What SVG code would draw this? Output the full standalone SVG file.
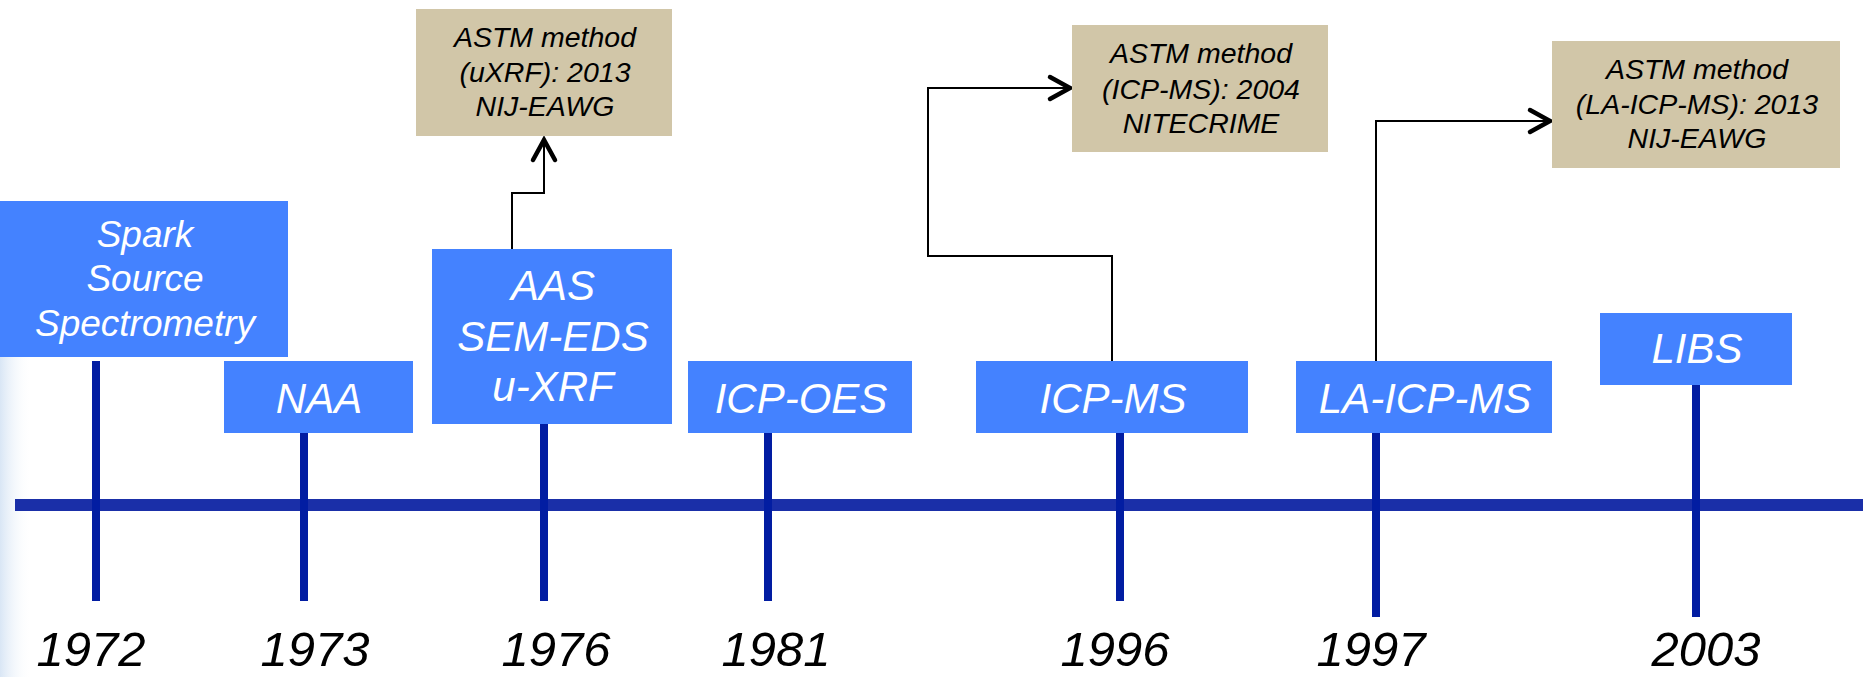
<svg xmlns="http://www.w3.org/2000/svg" width="1863" height="677" viewBox="0 0 1863 677">
<defs>
<linearGradient id="edge" x1="0" y1="0" x2="1" y2="0">
<stop offset="0" stop-color="#D9E6F5"/>
<stop offset="1" stop-color="#FFFFFF" stop-opacity="0"/>
</linearGradient>
<marker id="chev" markerUnits="userSpaceOnUse" markerWidth="30" markerHeight="30" viewBox="-26 -15 30 30" refX="0" refY="0" orient="auto">
<path d="M-21,-11 L-1,0 L-21,11" fill="none" stroke="#000" stroke-width="4.5" stroke-linecap="round" stroke-linejoin="miter"/>
</marker>
<style>
.tech{fill:#4482FF}
.astm{fill:#D1C6A8}
.tt{font-family:"Liberation Sans",Arial,sans-serif;font-style:italic;fill:#FFFFFF;text-anchor:middle}
.at{font-family:"Liberation Sans",Arial,sans-serif;font-style:italic;fill:#000000;text-anchor:middle;font-size:28.5px}
.yr{font-family:"Liberation Sans",Arial,sans-serif;font-style:italic;fill:#000000;text-anchor:middle;font-size:49px}
.tick{fill:#021DA2}
.conn{fill:none;stroke:#000;stroke-width:2}
</style>
</defs>
<rect x="0" y="0" width="1863" height="677" fill="#FFFFFF"/>
<rect x="0" y="357" width="32" height="320" fill="url(#edge)"/>

<g id="timeline">
<rect x="15" y="499" width="1848" height="12" fill="#1A2FA8"/>
</g>

<g id="ticks">
<rect class="tick" x="92" y="361" width="8" height="240"/>
<rect class="tick" x="300" y="433" width="8" height="168"/>
<rect class="tick" x="540" y="424" width="8" height="177"/>
<rect class="tick" x="764" y="433" width="8" height="168"/>
<rect class="tick" x="1116" y="433" width="8" height="168"/>
<rect class="tick" x="1372" y="433" width="8" height="184"/>
<rect class="tick" x="1692" y="385" width="8" height="232"/>
</g>

<g id="connectors">
<path class="conn" d="M512,249 V193 H544 V139" marker-end="url(#chev)"/>
<path class="conn" d="M1112,361 V256 H928 V88 H1071" marker-end="url(#chev)"/>
<path class="conn" d="M1376,361 V121 H1551" marker-end="url(#chev)"/>
</g>

<g id="node-spark">
<rect class="tech" x="0" y="201" width="288" height="156"/>
<text class="tt" font-size="37" x="145" y="247">Spark</text>
<text class="tt" font-size="37" x="145" y="291">Source</text>
<text class="tt" font-size="37" x="145" y="336">Spectrometry</text>
</g>

<g id="node-naa">
<rect class="tech" x="224" y="361" width="189" height="72"/>
<text class="tt" font-size="42" x="319" y="413">NAA</text>
</g>

<g id="node-aas">
<rect class="tech" x="432" y="249" width="240" height="175"/>
<text class="tt" font-size="42" x="553" y="300">AAS</text>
<text class="tt" font-size="42" x="553" y="351">SEM-EDS</text>
<text class="tt" font-size="42" x="553" y="401">u-XRF</text>
</g>

<g id="node-icpoes">
<rect class="tech" x="688" y="361" width="224" height="72"/>
<text class="tt" font-size="42" x="801" y="413">ICP-OES</text>
</g>

<g id="node-icpms">
<rect class="tech" x="976" y="361" width="272" height="72"/>
<text class="tt" font-size="42" x="1113" y="413">ICP-MS</text>
</g>

<g id="node-laicpms">
<rect class="tech" x="1296" y="361" width="256" height="72"/>
<text class="tt" font-size="42" x="1425" y="413">LA-ICP-MS</text>
</g>

<g id="node-libs">
<rect class="tech" x="1600" y="313" width="192" height="72"/>
<text class="tt" font-size="42" x="1697" y="363">LIBS</text>
</g>

<g id="node-astm-uxrf">
<rect class="astm" x="416" y="9" width="256" height="127"/>
<text class="at" x="545" y="47">ASTM method</text>
<text class="at" x="545" y="82">(uXRF): 2013</text>
<text class="at" x="545" y="116">NIJ-EAWG</text>
</g>

<g id="node-astm-icpms">
<rect class="astm" x="1072" y="25" width="256" height="127"/>
<text class="at" x="1201" y="63">ASTM method</text>
<text class="at" x="1201" y="99">(ICP-MS): 2004</text>
<text class="at" x="1201" y="133">NITECRIME</text>
</g>

<g id="node-astm-laicpms">
<rect class="astm" x="1552" y="41" width="288" height="127"/>
<text class="at" x="1697" y="79">ASTM method</text>
<text class="at" x="1697" y="114">(LA-ICP-MS): 2013</text>
<text class="at" x="1697" y="148">NIJ-EAWG</text>
</g>

<g id="years">
<text class="yr" x="91" y="666">1972</text>
<text class="yr" x="315" y="666">1973</text>
<text class="yr" x="556" y="666">1976</text>
<text class="yr" x="776" y="666">1981</text>
<text class="yr" x="1115" y="666">1996</text>
<text class="yr" x="1371" y="666">1997</text>
<text class="yr" x="1706" y="666">2003</text>
</g>
</svg>
